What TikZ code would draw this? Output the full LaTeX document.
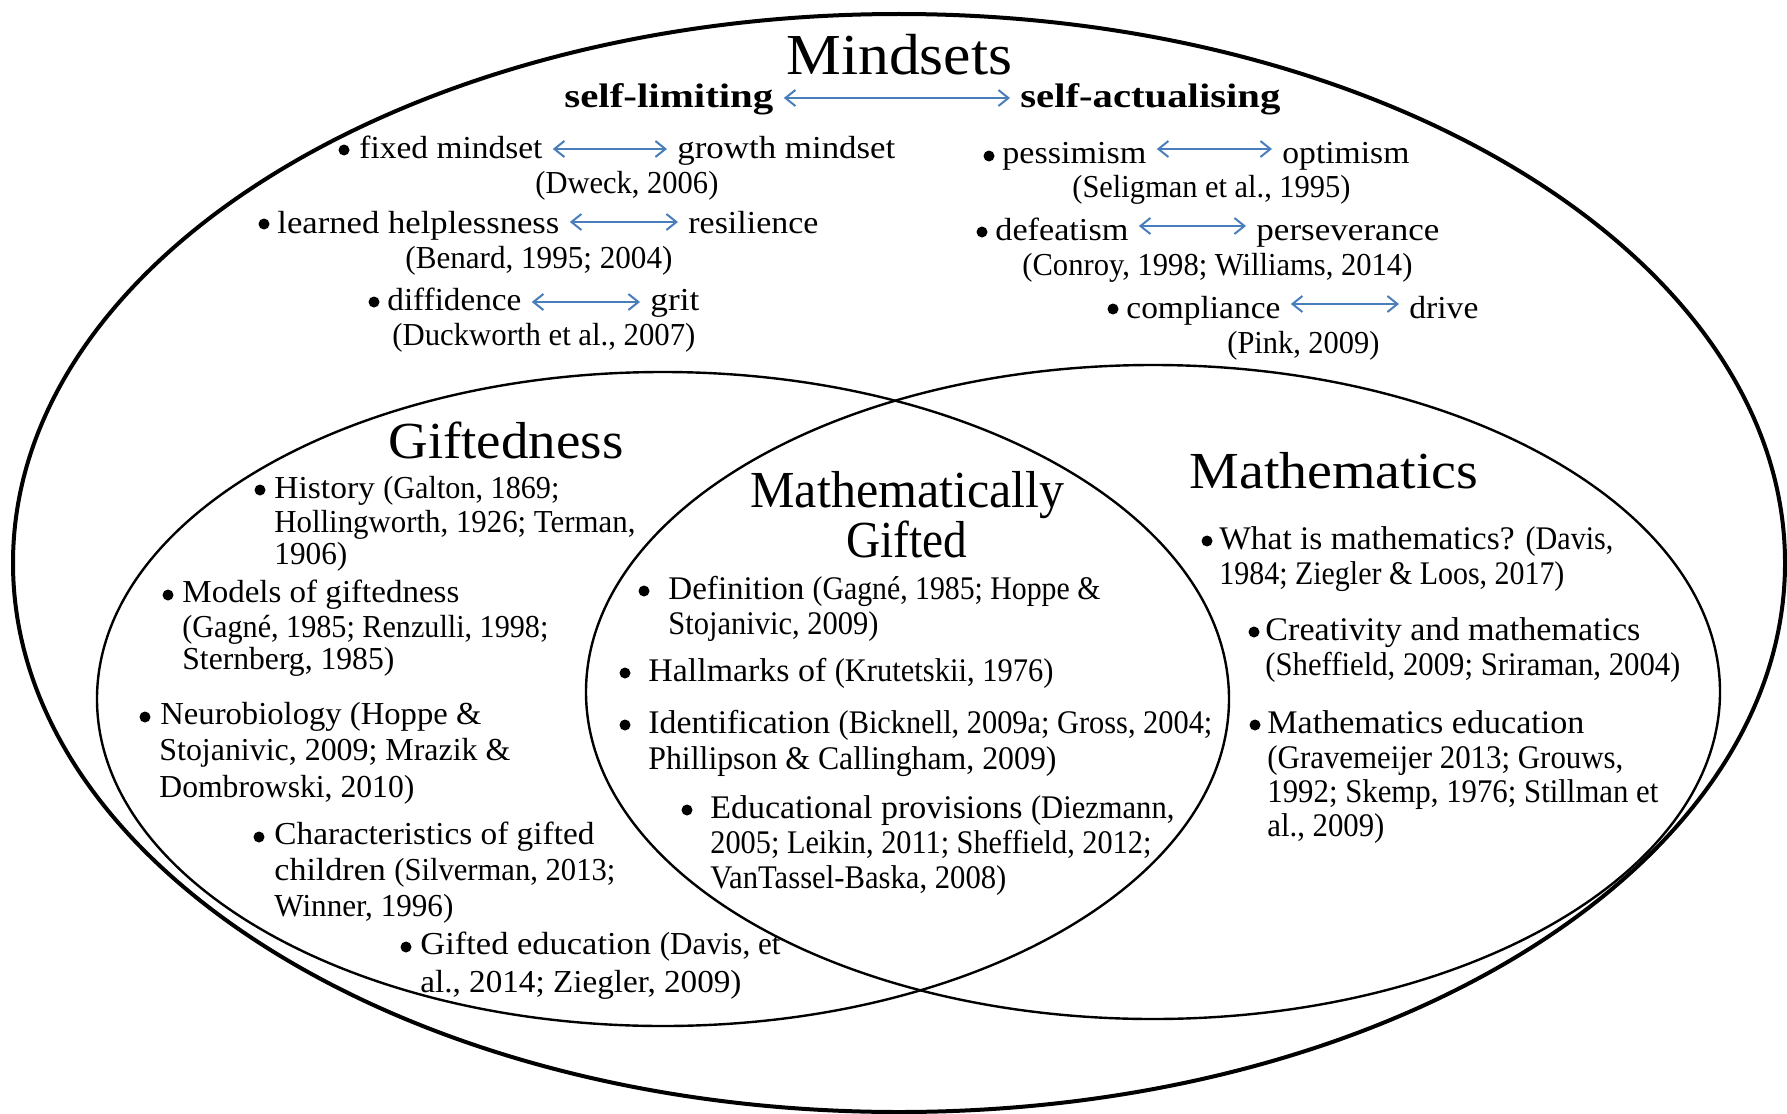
\documentclass[tikz,border=0pt]{standalone}
\usepackage{fontspec}
\usepackage{graphicx}
\setmainfont{Liberation Serif}
\newfontfamily\citefont{Liberation Serif}[FakeStretch=0.9]
\usetikzlibrary{arrows.meta}
\definecolor{arrowblue}{RGB}{74,126,187}
% one drawing unit = one pixel of the finished page
\newlength\upx \setlength\upx{0.5pt}
% set a line to a given width (in pixels) without changing its height
\newcommand\fitw[2]{\resizebox{#1\upx}{\height}{#2}}
\newcommand\cit[1]{{\citefont #1}}
\tikzset{
  txt/.style={inner sep=0pt, anchor=base west, font=\fontsize{16}{19}\selectfont},
  txtb/.style={inner sep=0pt, anchor=base west, font=\fontsize{16.5}{19}\selectfont},
  ttl/.style={inner sep=0pt, anchor=base west, font=\fontsize{26}{30}\selectfont},
  hdr/.style={inner sep=0pt, anchor=base west, font=\fontsize{17}{20}\selectfont\bfseries},
  bul/.style={circle, fill=black, inner sep=0pt, minimum size=11\upx},
  pole/.style={draw=arrowblue, line width=1pt,
    {Straight Barb[length=5pt,width=8pt]}-{Straight Barb[length=5pt,width=8pt]}},
  outerring/.style={line width=2pt},
  vennring/.style={line width=1.2pt}
}
\newcommand\link[3]{\draw[pole] ([xshift=10\upx,yshift=#3\upx]#1.base east) -- ([xshift=-10\upx,yshift=#3\upx]#2.base west);}
\begin{document}
\begin{tikzpicture}[x=0.5pt,y=-0.5pt]
\useasboundingbox (0,0) rectangle (1787,1113);

% the three sets
\draw[outerring] (899,563) ellipse [x radius=443pt, y radius=274.5pt];
\draw[vennring] (663,699) ellipse [x radius=283pt, y radius=163.5pt];
\draw[vennring] (1153,692) ellipse [x radius=283.5pt, y radius=163.5pt];

% ---- Mindsets ----
\node[inner sep=0pt, anchor=base west, font=\fontsize{29}{34}\selectfont] (mindsets) at (786,75) {\fitw{226}{Mindsets}};
\node[hdr] (selflim) at (564,108) {\fitw{209}{self-limiting}};
\node[hdr] (selfact) at (1020,108) {\fitw{260}{self-actualising}};
\link{selflim}{selfact}{10}

\node[bul] (b1) at (344,150) {};
\node[txt] (fixed) at (359,158) {\fitw{183}{fixed mindset}};
\node[txt] (growth) at (677,158) {\fitw{218}{growth mindset}};
\node[txt] (dweck) at (535,193) {\fitw{183}{\cit{(Dweck, 2006)}}};
\link{fixed}{growth}{9}

\node[bul] (b2) at (264,224) {};
\node[txt] (learned) at (277,233) {\fitw{282}{learned helplessness}};
\node[txt] (resil) at (688,233) {\fitw{130}{resilience}};
\node[txt] (benard) at (405,268) {\fitw{267}{\cit{(Benard, 1995; 2004)}}};
\link{learned}{resil}{11}

\node[bul] (b3) at (374,302) {};
\node[txt] (diffid) at (387,310) {\fitw{134}{diffidence}};
\node[txt] (grit) at (650,310) {\fitw{49}{grit}};
\node[txt] (duckw) at (392,345) {\fitw{303}{\cit{(Duckworth et al., 2007)}}};
\link{diffid}{grit}{8}

\node[bul] (b4) at (989,156) {};
\node[txt] (pess) at (1002,163) {\fitw{144}{pessimism}};
\node[txt] (optim) at (1282,163) {\fitw{127}{optimism}};
\node[txt] (selig) at (1072,197) {\fitw{278}{\cit{(Seligman et al., 1995)}}};
\link{pess}{optim}{14}

\node[bul] (b5) at (982,232) {};
\node[txt] (defeat) at (995,240) {\fitw{133}{defeatism}};
\node[txt] (persev) at (1256,240) {\fitw{183}{perseverance}};
\node[txt] (conroy) at (1022,275) {\fitw{390}{\cit{(Conroy, 1998; Williams, 2014)}}};
\link{defeat}{persev}{14}

\node[bul] (b6) at (1113,309) {};
\node[txt] (compl) at (1126,318) {\fitw{154}{compliance}};
\node[txt] (drive) at (1409,318) {\fitw{69}{drive}};
\node[txt] (pink) at (1227,353) {\fitw{152}{\cit{(Pink, 2009)}}};
\link{compl}{drive}{14}

% ---- Giftedness ----
\node[ttl] (gifted) at (388,458) {\fitw{235}{Giftedness}};
\node[bul] (g1) at (260,490) {};
\node[txt] (g1a) at (274,498) {\fitw{285}{History \cit{(Galton, 1869;}}};
\node[txt] (g1b) at (274,532) {\fitw{361}{\cit{Hollingworth, 1926; Terman,}}};
\node[txt] (g1c) at (274,564) {\fitw{73}{\cit{1906)}}};
\node[bul] (g2) at (168,595) {};
\node[txt] (g2a) at (182,602) {\fitw{277}{Models of giftedness}};
\node[txt] (g2b) at (182,637) {\fitw{366}{\cit{(Gagné, 1985; Renzulli, 1998;}}};
\node[txt] (g2c) at (182,669) {\fitw{212}{\cit{Sternberg, 1985)}}};
\node[bul] (g3) at (145,717) {};
\node[txt] (g3a) at (160,724) {\fitw{321}{Neurobiology (Hoppe \&}};
\node[txt] (g3b) at (159,760) {\fitw{351}{Stojanivic, 2009; Mrazik \&}};
\node[txt] (g3c) at (159,797) {\fitw{255}{Dombrowski, 2010)}};
\node[bul] (g4) at (259,837) {};
\node[txt] (g4a) at (274,844) {\fitw{320}{Characteristics of gifted}};
\node[txt] (g4b) at (274,880) {\fitw{341}{children \cit{(Silverman, 2013;}}};
\node[txt] (g4c) at (274,916) {\fitw{179}{\cit{Winner, 1996)}}};
\node[bul] (g5) at (406,947) {};
\node[txt] (g5a) at (420,954) {\fitw{360}{Gifted education \cit{(Davis, et}}};
\node[txt] (g5b) at (420,992) {\fitw{321}{\cit{al., 2014; Ziegler, 2009)}}};

% ---- Mathematically Gifted ----
\node[ttl] (mgt1) at (750,507) {\fitw{314}{Mathematically}};
\node[ttl] (mgt2) at (846,557) {\fitw{121}{Gifted}};
\node[bul] (mg1) at (644,591) {};
\node[txtb] (mg1a) at (668,599) {\fitw{432}{Definition \cit{(Gagné, 1985; Hoppe \&}}};
\node[txtb] (mg1b) at (668,634) {\fitw{210}{\cit{Stojanivic, 2009)}}};
\node[bul] (mg2) at (625,673) {};
\node[txtb] (mg2a) at (648,681) {\fitw{405}{Hallmarks of \cit{(Krutetskii, 1976)}}};
\node[bul] (mg3) at (625,725) {};
\node[txtb] (mg3a) at (648,733) {\fitw{564}{Identification \cit{(Bicknell, 2009a; Gross, 2004;}}};
\node[txtb] (mg3b) at (648,769) {\fitw{408}{\cit{Phillipson \& Callingham, 2009)}}};
\node[bul] (mg4) at (687,810) {};
\node[txtb] (mg4a) at (710,818) {\fitw{464}{Educational provisions \cit{(Diezmann,}}};
\node[txtb] (mg4b) at (710,853) {\fitw{441}{\cit{2005; Leikin, 2011; Sheffield, 2012;}}};
\node[txtb] (mg4c) at (710,888) {\fitw{296}{\cit{VanTassel-Baska, 2008)}}};

% ---- Mathematics ----
\node[ttl] (maths) at (1189,488) {\fitw{289}{Mathematics}};
\node[bul] (m1) at (1207,541) {};
\node[txtb] (m1a) at (1219,549) {\fitw{394}{What is mathematics? \cit{(Davis,}}};
\node[txtb] (m1b) at (1219,584) {\fitw{345}{\cit{1984; Ziegler \& Loos, 2017)}}};
\node[bul] (m2) at (1254,632) {};
\node[txtb] (m2a) at (1265,640) {\fitw{375}{Creativity and mathematics}};
\node[txtb] (m2b) at (1265,675) {\fitw{415}{\cit{(Sheffield, 2009; Sriraman, 2004)}}};
\node[bul] (m3) at (1255,725) {};
\node[txtb] (m3a) at (1267,733) {\fitw{317}{Mathematics education}};
\node[txtb] (m3b) at (1267,768) {\fitw{356}{\cit{(Gravemeijer 2013; Grouws,}}};
\node[txtb] (m3c) at (1267,802) {\fitw{391}{\cit{1992; Skemp, 1976; Stillman et}}};
\node[txtb] (m3d) at (1267,836) {\fitw{117}{\cit{al., 2009)}}};
\end{tikzpicture}
\end{document}
